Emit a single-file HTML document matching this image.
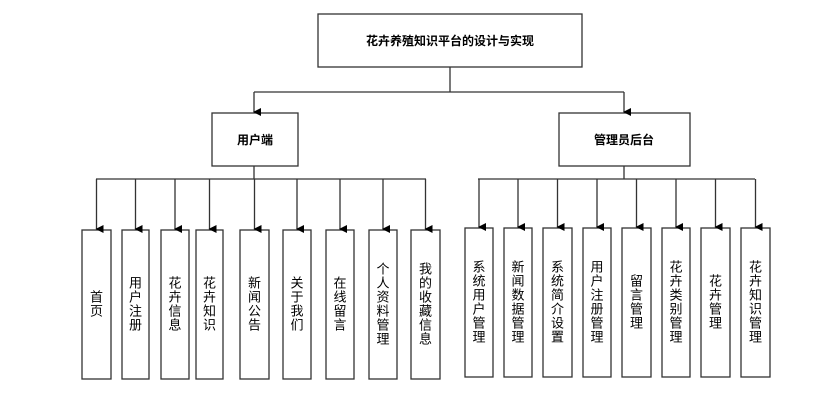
<!DOCTYPE html>
<html><head><meta charset="utf-8"><style>
html,body{margin:0;padding:0;background:#fff;}
svg{display:block;}
text{font-family:"Liberation Sans","Noto Sans CJK SC",sans-serif;fill:#000;}
</style></head><body>
<svg width="838" height="412" viewBox="0 0 838 412" xmlns="http://www.w3.org/2000/svg">
<defs><marker id="a" markerWidth="8" markerHeight="8" refX="4" refY="7" orient="auto" markerUnits="userSpaceOnUse"><path d="M0,0 L8,0 L4,8 z" fill="#000"/></marker></defs>
<g fill="none" stroke="#333" stroke-width="1.3">
<rect x="318" y="14" width="264" height="53"/>
<rect x="212" y="113" width="86" height="53"/>
<rect x="559" y="113" width="131" height="53"/>
<path d="M450,67 V92 M254,92 H624"/>
<path d="M254,92 V112" marker-end="url(#a)"/>
<path d="M624,92 V112" marker-end="url(#a)"/>
<path d="M254,166 V179 M96,179 H426 M624,166 V179 M478,179 H755"/>
</g>
<g font-size="12" font-weight="bold" text-anchor="middle">
<text x="450" y="45">花卉养殖知识平台的设计与实现</text>
<text x="255" y="144">用户端</text>
<text x="624" y="144">管理员后台</text>
</g>
<g id="nodes" fill="none" stroke="#333" stroke-width="1.3"></g>
<g id="txt" font-size="13" text-anchor="middle"></g>
</svg>
<script>
var L=[[82,111,"首页"],[122,149,"用户注册"],[161,189,"花卉信息"],[196,223,"花卉知识"],[240,269,"新闻公告"],[283,311,"关于我们"],[326,354,"在线留言"],[369,397,"个人资料管理"],[411,440,"我的收藏信息"]];
var R=[[465,493,"系统用户管理"],[504,532,"新闻数据管理"],[543,572,"系统简介设置"],[583,611,"用户注册管理"],[622,651,"留言管理"],[662,690,"花卉类别管理"],[701,730,"花卉管理"],[741,770,"花卉知识管理"]];
var ns="http://www.w3.org/2000/svg",g=document.getElementById("nodes"),t=document.getElementById("txt");
function add(list,y1,y2){list.forEach(function(n){
 var cx=(n[0]+n[1])/2;
 var r=document.createElementNS(ns,"rect");r.setAttribute("x",n[0]);r.setAttribute("y",y1);r.setAttribute("width",n[1]-n[0]);r.setAttribute("height",y2-y1);g.appendChild(r);
 var p=document.createElementNS(ns,"path");p.setAttribute("d","M"+cx+",179 V"+(y1-1));p.setAttribute("marker-end","url(#a)");g.appendChild(p);
 var s=n[2],step=14,mid=(y1+y2)/2,start=mid-(s.length*step)/2+11;
 for(var i=0;i<s.length;i++){var e=document.createElementNS(ns,"text");e.setAttribute("x",cx);e.setAttribute("y",start+i*step);e.textContent=s[i];t.appendChild(e);}
});}
add(L,230,379);add(R,228,377);
</script>
</body></html>
